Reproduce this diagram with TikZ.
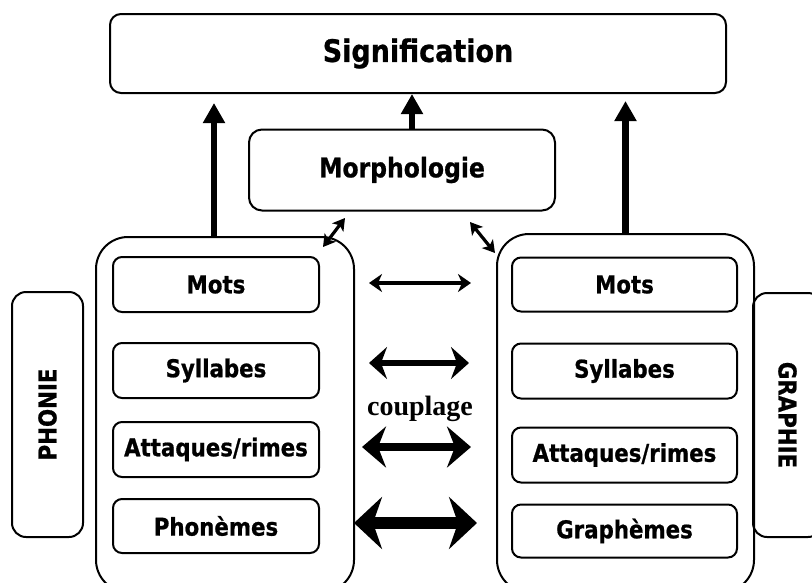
\documentclass[tikz,border=0pt]{standalone}
\usepackage{fontspec}
\setmainfont{DejaVu Sans}[FakeStretch=0.87, BoldFeatures={FakeBold=0.8}]
\newfontfamily\serifbold{Liberation Serif}
\usetikzlibrary{arrows.meta}
\begin{document}
\begin{tikzpicture}[x=1pt,y=-1pt,
  rbox/.style={draw, line width=2pt, rounded corners=#1, inner sep=0pt, font=\bfseries\fontsize{24.5}{26}\selectfont},
  inbox/.style={rbox=9pt, minimum height=55pt},
  sidetext/.style={font=\bfseries\fontsize{24.5}{26}\selectfont},
  uparr/.style={line width=6.5pt, -{Triangle[length=20pt,width=21pt]}},
  diag/.style={line width=3.2pt, {Stealth[length=12pt,width=14pt,inset=3pt]}-{Stealth[length=12pt,width=14pt,inset=3pt]}},
  dblA/.style={line width=3.4pt, {Stealth[length=13pt,width=18pt,inset=4pt]}-{Stealth[length=13pt,width=18pt,inset=4pt]}},
  dblB/.style={line width=5.5pt, {Stealth[length=18pt,width=32pt,inset=6pt]}-{Stealth[length=18pt,width=32pt,inset=6pt]}},
  dblC/.style={line width=8pt, {Stealth[length=24pt,width=41pt,inset=8pt]}-{Stealth[length=24pt,width=41pt,inset=8pt]}},
  dblD/.style={line width=12pt, {Stealth[length=28pt,width=52pt,inset=9pt]}-{Stealth[length=28pt,width=52pt,inset=9pt]}}
]
\clip (0,0) rectangle (812,582);
\fill[white] (0,0) rectangle (812,582);

% top boxes
\node[rbox=11pt, minimum width=616pt, minimum height=79pt, font=\bfseries\fontsize{31}{33}\selectfont] (sig) at (418,53.5) {Signification};
\node[rbox=13pt, minimum width=306pt, minimum height=81pt, font=\bfseries\fontsize{27}{29}\selectfont] (morph) at (402,170) {Morphologie};

% big containers
\node[rbox=32pt, minimum width=258pt, minimum height=355pt] (lbig) at (225,414.5) {};
\node[rbox=32pt, minimum width=257pt, minimum height=358pt] (rbig) at (625.5,413) {};

% side labels
\node[rbox=14pt, minimum width=71pt, minimum height=245pt] (phon) at (47.5,414.5) {};
\node[rotate=90, sidetext] (phont) at (phon.center) {PHONIE};
\node[rbox=14pt, minimum width=69pt, minimum height=244pt] (graph) at (787.5,415) {};
\node[rotate=-90, sidetext] (grapht) at (graph.center) {GRAPHIE};

% left inner boxes
\node[inbox, minimum width=206pt] (lmots) at (216,284.5) {Mots};
\node[inbox, minimum width=206pt] (lsyl) at (216,370.5) {Syllabes};
\node[inbox, minimum width=206pt] (latt) at (216,449.5) {Attaques/rimes};
\node[inbox, minimum width=206pt, minimum height=54pt] (lpho) at (216,526) {Phonèmes};

% right inner boxes
\node[inbox, minimum width=225pt, minimum height=54pt] (rmots) at (624.5,284.5) {Mots};
\node[inbox, minimum width=225pt] (rsyl) at (624.5,371) {Syllabes};
\node[inbox, minimum width=225pt] (ratt) at (624.5,455) {Attaques/rimes};
\node[inbox, minimum width=225pt, minimum height=53pt] (rgra) at (624.5,531) {Graphèmes};

% couplage label
\node[font=\serifbold\bfseries\fontsize{28}{30}\selectfont] (coup) at (420,409) {couplage};

% upward arrows
\draw[uparr] ([xshift=-11pt]lbig.north) -- ([xshift=-11pt,yshift=-9pt]lbig.north |- sig.south);
\draw[uparr] ([xshift=10pt]morph.north) -- ([xshift=10pt]morph.north |- sig.south);
\draw[uparr] (rbig.north) -- ([yshift=-7pt]rbig.north |- sig.south);

% diagonal arrows
\coordinate (dl1) at (323,247);
\coordinate (dl2) at (345,218);
\coordinate (dr1) at (470,222);
\coordinate (dr2) at (495,253);
\draw[diag] (dl1) -- (dl2);
\draw[diag] (dr1) -- (dr2);

% coupling arrows
\draw[dblA, shorten <=49pt, shorten >=40pt] ([yshift=1.5pt]lmots.east) -- ([yshift=1.5pt]lmots.east -| rmots.west);
\draw[dblB, shorten <=49pt, shorten >=42pt] ([yshift=7.5pt]lsyl.east) -- ([yshift=7.5pt]lsyl.east -| rsyl.west);
\draw[dblC, shorten <=42pt, shorten >=40pt] ([yshift=2.5pt]latt.east) -- ([yshift=2.5pt]latt.east -| ratt.west);
\draw[dblD, shorten <=34pt, shorten >=34pt] ([yshift=3pt]lpho.east) -- ([yshift=3pt]lpho.east -| rgra.west);
\end{tikzpicture}
\end{document}
